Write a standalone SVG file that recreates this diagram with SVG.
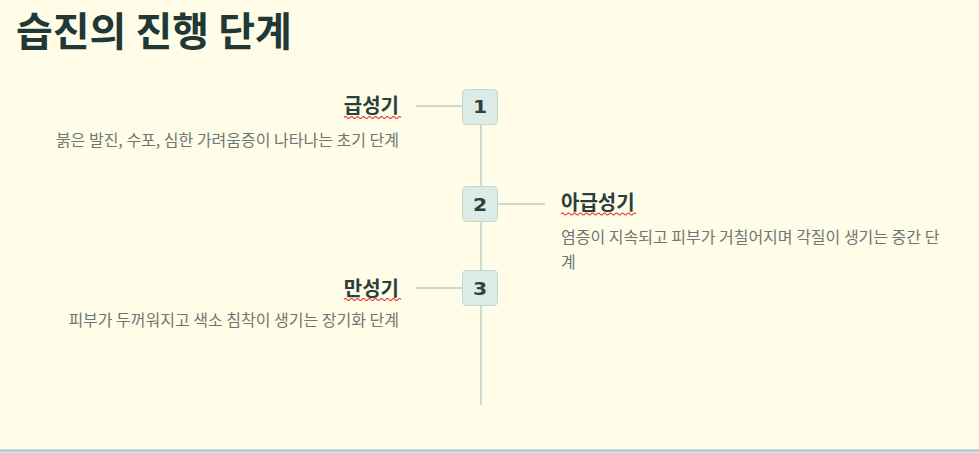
<svg xmlns="http://www.w3.org/2000/svg" width="979" height="453" viewBox="0 0 979 453">
<style>
.title{font-family:"Noto Sans CJK KR","Noto Sans",sans-serif;font-weight:700;font-size:40px;fill:#223836}
.lbl{font-family:"Noto Sans CJK KR","Noto Sans",sans-serif;font-weight:700;font-size:20px;fill:#2a3f3d}
.desc{font-family:"Noto Sans CJK KR","Noto Sans",sans-serif;font-size:16px;fill:#6d7774}
.box{fill:#dcebe5;stroke:#c3d8d1;stroke-width:1}
.num{font-family:"DejaVu Sans","Noto Sans",sans-serif;font-weight:700;font-size:17px;fill:#2c4240}
.line{stroke:#b9cfca;stroke-width:1.5;fill:none}
.sq{stroke:#e8322f;stroke-width:1.2;fill:none}
</style>
<rect width="979" height="453" fill="#fffde7"/>
<text class="title" x="16" y="46">습진의 진행 단계</text>
<g id="connectors">
<line class="line" x1="481" y1="107" x2="481" y2="405"/>
<line class="line" x1="416" y1="106" x2="462" y2="106"/>
<line class="line" x1="498" y1="204" x2="545" y2="204"/>
<line class="line" x1="416" y1="288" x2="462" y2="288"/>
</g>
<g id="step1">
<rect class="box" x="462.5" y="89.5" width="35" height="35" rx="4"/>
<text class="num" transform="translate(480,113) scale(1.2,1)" text-anchor="middle">1</text>
<text class="lbl" x="399" y="113" text-anchor="end">급성기</text>
<path class="sq" d="M344 117.5 q1.5 -2 3 0 t3 0 t3 0 t3 0 t3 0 t3 0 t3 0 t3 0 t3 0 t3 0 t3 0 t3 0 t3 0 t3 0 t3 0 t3 0 t3 0 t3 0 t3 0"/>
<text class="desc" x="399" y="146" text-anchor="end">붉은 발진, 수포, 심한 가려움증이 나타나는 초기 단계</text>
</g>
<g id="step2">
<rect class="box" x="462.5" y="186.5" width="35" height="35" rx="4"/>
<text class="num" transform="translate(480,211) scale(1.2,1)" text-anchor="middle">2</text>
<text class="lbl" x="561" y="210">아급성기</text>
<path class="sq" d="M561 214 q1.5 -2 3 0 t3 0 t3 0 t3 0 t3 0 t3 0 t3 0 t3 0 t3 0 t3 0 t3 0 t3 0 t3 0 t3 0 t3 0 t3 0 t3 0 t3 0 t3 0 t3 0 t3 0 t3 0 t3 0 t3 0 t3 0"/>
<text class="desc" x="561" y="243">염증이 지속되고 피부가 거칠어지며 각질이 생기는 중간 단</text>
<text class="desc" x="561" y="268">계</text>
</g>
<g id="step3">
<rect class="box" x="462.5" y="270.5" width="35" height="35" rx="4"/>
<text class="num" transform="translate(480,295) scale(1.2,1)" text-anchor="middle">3</text>
<text class="lbl" x="399" y="296" text-anchor="end">만성기</text>
<path class="sq" d="M344 299.5 q1.5 -2 3 0 t3 0 t3 0 t3 0 t3 0 t3 0 t3 0 t3 0 t3 0 t3 0 t3 0 t3 0 t3 0 t3 0 t3 0 t3 0 t3 0 t3 0 t3 0"/>
<text class="desc" x="399" y="326" text-anchor="end">피부가 두꺼워지고 색소 침착이 생기는 장기화 단계</text>
</g>
<rect x="0" y="449.5" width="979" height="1.5" fill="#8fc6e4"/>
<rect x="0" y="451" width="979" height="2" fill="#dcdcc8"/>
</svg>
